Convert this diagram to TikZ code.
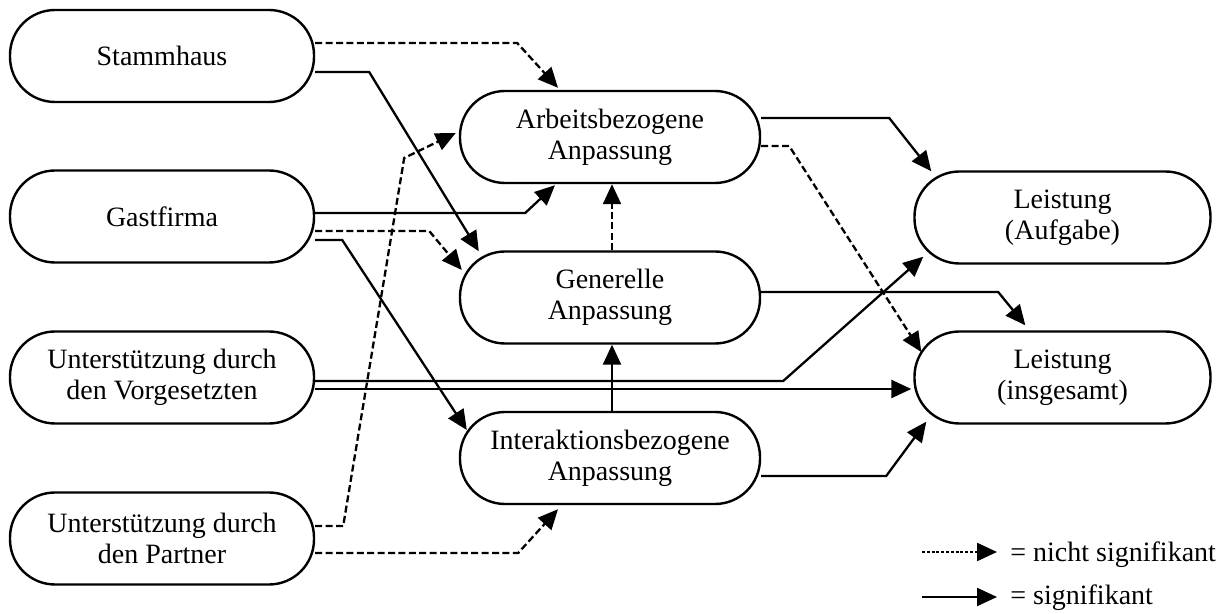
\documentclass[tikz,border=0pt]{standalone}
\usepackage{fontspec}
\setmainfont{Liberation Serif}
\usetikzlibrary{calc,arrows.meta,backgrounds}
\begin{document}
\begin{tikzpicture}[x=0.5pt,y=-0.5pt,
  txt/.style={font=\fontsize{14}{15.5}\selectfont},
  box/.style={txt,draw,line width=1.2pt,fill=white,rounded corners=22.5pt,
    minimum height=46pt,inner sep=0pt,align=center},
  lbox/.style={box,minimum width=152pt},
  mbox/.style={box,minimum width=150pt},
  rbox/.style={box,minimum width=148pt},
  sig/.style={line width=1.15pt,-{Triangle[length=10pt,width=9pt]}},
  nsig/.style={sig,dash pattern=on 3.5pt off 1.7pt},
  lnsig/.style={sig,dash pattern=on 1.5pt off 0.9pt},
  ]
\useasboundingbox (0,0) rectangle (1228,614);
% left column
\node[lbox] (stamm) at (162,56) {Stammhaus};
\node[lbox] (gast) at (162,216.5) {Gastfirma};
\node[lbox] (vorg) at (162,377.5) {Unterstützung durch\\den Vorgesetzten};
\node[lbox] (part) at (162,538.5) {Unterstützung durch\\den Partner};
% middle column
\node[mbox] (arb) at (610,137) {Arbeitsbezogene\\Anpassung};
\node[mbox] (gen) at (610,297.5) {Generelle\\Anpassung};
\node[mbox] (int) at (610,458) {Interaktionsbezogene\\Anpassung};
% right column
\node[rbox] (lauf) at (1062.5,217.5) {Leistung\\(Aufgabe)};
\node[rbox] (lins) at (1062.5,377.5) {Leistung\\(insgesamt)};
% legend
\coordinate (l1a) at (922,552);
\coordinate (l1b) at (997,552);
\coordinate (l2a) at (922,597);
\coordinate (l2b) at (997,597);
\draw[lnsig] (l1a) -- (l1b);
\draw[sig] (l2a) -- (l2b);
\node[txt,anchor=base west,inner sep=0pt] (l1t) at (1010,562) {= nicht signifikant};
\node[txt,anchor=base west,inner sep=0pt] (l2t) at (1010,605) {= signifikant};
\begin{pgfonlayer}{background}
% Stammhaus
\draw[nsig] ($(stamm.east)+(0,-13)$) -- ++(202,0) -- ($(arb.north)+(-52,-2)$);
\draw[sig] ($(stamm.east)+(0,16)$) -- ++(54,0) -- ($(gen.north west)+(20,1)$);
% Gastfirma
\draw[sig] ($(gast.east)+(0,-3.5)$) -- ++(210,0) -- ($(arb.south)+(-55,1)$);
\draw[nsig] ($(gast.east)+(0,14.5)$) -- ++(114,0) -- ($(gen.west)+(3,-27.5)$);
\draw[sig] ($(gast.east)+(0,23.5)$) -- ++(27,0) -- ($(int.west)+(8,-28)$);
% Vorgesetzte
\draw[sig] ($(vorg.east)+(0,3.5)$) -- ++(468,0) -- ($(lauf.south west)+(10,-8)$);
\draw[sig] ($(vorg.east)+(0,11.5)$) -- ($(lins.west)+(-2,11.5)$);
% Partner
\draw[nsig] ($(part.east)+(0,-12.5)$) -- ++(28,0) -- ++(61,-368) -- ($(arb.west)+(-3,-4)$);
\draw[nsig] ($(part.east)+(0,14.5)$) -- ++(203,0) -- ($(int.south)+(-52,4)$);
% middle to middle
\draw[nsig] ($(gen.north)+(2,0)$) -- ($(arb.south)+(2,0)$);
\draw[sig] ($(int.north)+(2,0)$) -- ($(gen.south)+(2,0)$);
% middle to right
\draw[sig] ($(arb.east)+(0,-19)$) -- ++(128,0) -- ($(lauf.north west)+(18,1)$);
\draw[nsig] ($(arb.east)+(0,9)$) -- ++(28,0) -- ($(lins.west)+(8,-25.5)$);
\draw[sig] ($(gen.east)+(0,-5.5)$) -- ++(237,0) -- ($(lins.north west)+(112,-5)$);
\draw[sig] ($(int.east)+(0,18)$) -- ++(125,0) -- ($(lins.south west)+(13,-3)$);
\end{pgfonlayer}
\end{tikzpicture}
\end{document}
